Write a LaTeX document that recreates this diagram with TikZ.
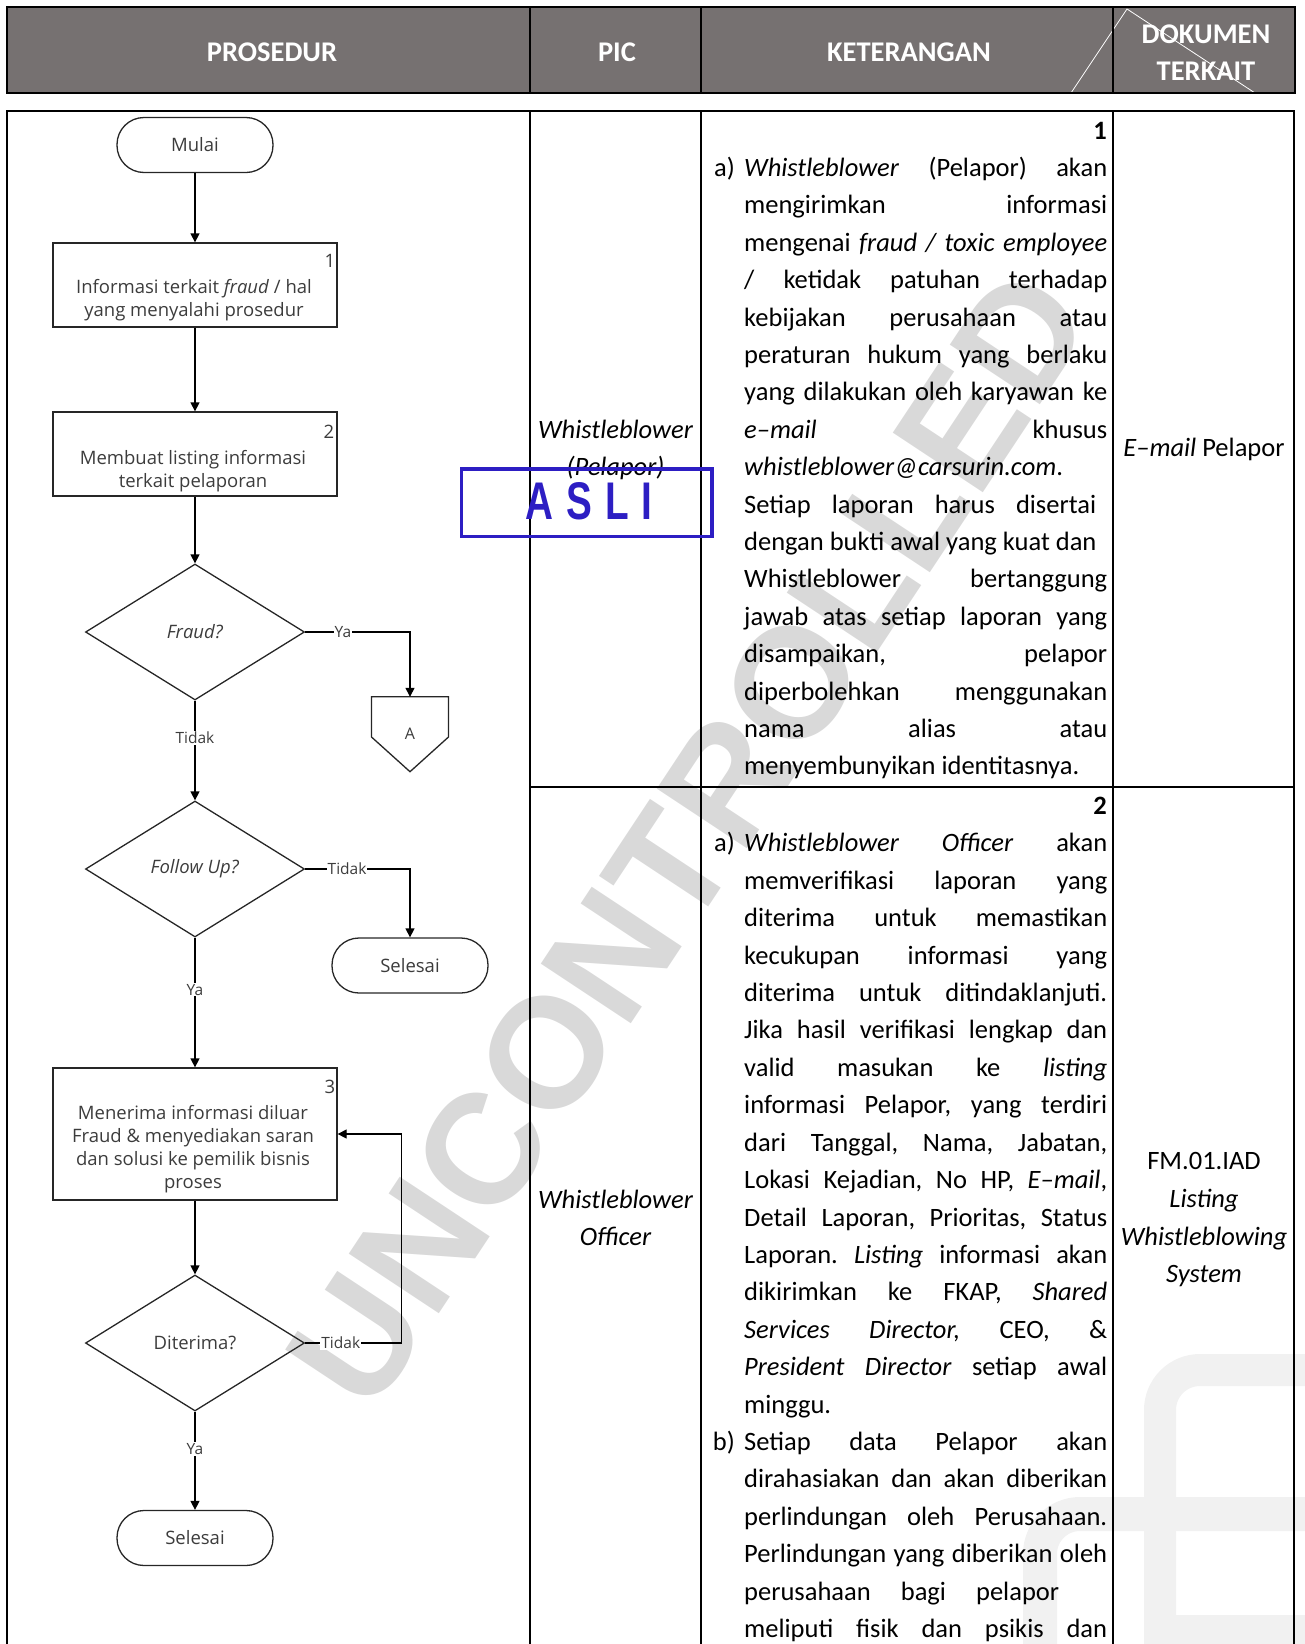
\documentclass[tikz,border=0pt]{standalone}
\usepackage{fontspec}
\usepackage{graphicx}
\setmainfont{Carlito}
\newfontfamily\flowfont{Open Sans}
\newfontfamily\stampfont{Liberation Sans}
\usetikzlibrary{arrows.meta,shapes.geometric,calc}
\definecolor{hdrgray}{HTML}{767171}
\definecolor{asliblue}{RGB}{45,30,195}
\definecolor{flowtext}{HTML}{3C3C3C}
\definecolor{wmgray}{HTML}{D9D9D9}
\definecolor{logogray}{HTML}{F1F1F1}
\frenchspacing
\newcommand{\jline}[1]{\makebox[\linewidth][s]{#1}\par}
\newcommand{\jlinew}[2]{\makebox[#1][s]{#2}\par}
\newcommand{\lline}[1]{\mbox{#1}\par}
\newcommand{\itemlab}[1]{\llap{#1\hspace{9.3pt}}}
\begin{document}
\begin{tikzpicture}[x=1pt,y=-1pt,
  tline/.style={line width=1.5pt,black},
  hdrtxt/.style={text=white,font=\fontsize{28.5}{30}\selectfont\bfseries,inner sep=0},
  fbox/.style={draw=black!85,line width=1.3pt,minimum width=284pt,inner sep=0},
  term/.style={draw=black!85,line width=1.3pt,rounded corners=27pt,minimum width=156pt,minimum height=55pt,inner sep=0,text=flowtext,font=\flowfont\fontsize{18.5}{23}\selectfont},
  dec/.style={diamond,draw=black!85,line width=1.3pt,minimum width=219pt,minimum height=136pt,inner sep=0,aspect=1.6,text=flowtext,font=\flowfont\fontsize{18.5}{23}\selectfont},
  ftxt/.style={text=flowtext,font=\flowfont\fontsize{18.5}{23}\selectfont,align=center,inner sep=0},
  lbl/.style={fill=white,inner sep=1pt,text=flowtext,font=\flowfont\fontsize{15.5}{17}\selectfont},
  arr/.style={line width=1.3pt,black,-{Triangle[length=9pt,width=9pt]}},
  shapeline/.style={draw=black!85,line width=1.3pt},
  cell/.style={font=\fontsize{26.5}{37.41}\selectfont,inner sep=0},
  celli/.style={font=\fontsize{26.5}{30}\selectfont\itshape,inner sep=0,anchor=base},
]
\useasboundingbox (0,0) rectangle (1304,1644);

% faint logo, bottom right
\draw[logogray,line width=32pt,rounded corners=40pt] (1160,1700) -- (1160,1370) -- (1340,1370);
\draw[logogray,line width=34pt,rounded corners=40pt] (1040,1700) -- (1040,1514) -- (1340,1514);
\fill[logogray] (1145,1615) rectangle (1320,1660);

% watermark
\node[rotate=56.5,text=wmgray,font=\stampfont\bfseries\fontsize{157}{157}\selectfont,inner sep=0] (wm) at (689,838.6) {UNCONTROLLED};

% header
\fill[hdrgray] (7,7) rectangle (1295,93);
\draw[white,line width=0.8pt] (1071,93) -- (1127,9) -- (1255,93);
\draw[line width=2.5pt] (7,7) rectangle (1295,93);
\draw[line width=2pt] (530,7) -- (530,93) (701,7) -- (701,93) (1113,7) -- (1113,93);
\node[hdrtxt] (h1) at (272,52.4) {PROSEDUR};
\node[hdrtxt] (h2) at (617,52.4) {PIC};
\node[hdrtxt] (h3) at (909,52.4) {KETERANGAN};
\node[hdrtxt] (h4a) at (1206,34.5) {DOKUMEN};
\node[hdrtxt] (h4b) at (1206,71) {TERKAIT};

% body grid
\draw[tline] (7,1650) -- (7,111) -- (1294,111) -- (1294,1650);
\draw[tline] (530,111) -- (530,1650);
\draw[tline] (701,111) -- (701,1650);
\draw[tline] (1113,111) -- (1113,1650);
\draw[tline] (530,787) -- (1294,787);

% flowchart
\node[term] (mulai) at (195,145) {Mulai};
\node[fbox,minimum height=84pt] (b1) at (195,285) {};
\node[ftxt] (b1t) at (194,300.5) {Informasi terkait \textit{fraud} / hal\\yang menyalahi prosedur};
\node[ftxt] (b1n) at (330,261) {1};
\node[fbox,minimum height=84pt] (b2) at (195,454) {};
\node[ftxt] (b2t) at (193,471.5) {Membuat listing informasi\\terkait pelaporan};
\node[ftxt] (b2n) at (329,432) {2};
\node[dec] (fraud) at (195,632) {\textit{Fraud?}};
\node[ftxt,minimum width=76.6pt,minimum height=74.5pt,font=\flowfont\fontsize{16}{18}\selectfont] (A) at (410,734.25) {A};
\draw[shapeline] (A.north west) -- (A.north east) -- ([yshift=-2.75pt]A.east) -- (A.south) -- ([yshift=-2.75pt]A.west) -- cycle;
\node[dec] (follow) at (195,869) {\textit{Follow Up?}};
\node[term] (sel1) at (410,965.5) {Selesai};
\node[fbox,minimum height=132pt] (b3) at (195,1134) {};
\node[ftxt] (b3t) at (193,1149) {Menerima informasi diluar\\Fraud \& menyediakan saran\\dan solusi ke pemilik bisnis\\proses};
\node[ftxt] (b3n) at (330,1087) {3};
\node[dec] (diterima) at (195,1343) {Diterima?};
\node[term] (sel2) at (195,1538) {Selesai};
\coordinate (fb) at (401.5,1343);

\draw[arr] (mulai) -- (b1);
\draw[arr] (b1) -- (b2);
\draw[arr] (b2) -- (fraud);
\draw[arr] (fraud.east) -| node[lbl,pos=0.18] (l1) {Ya} (A.north);
\draw[arr] (fraud) -- node[lbl,pos=0.37] (l2) {Tidak} (follow);
\draw[arr] (follow.east) -| node[lbl,pos=0.2] (l3) {Tidak} (sel1.north);
\draw[arr] (follow) -- node[lbl,pos=0.4] (l4) {Ya} (b3);
\draw[arr] (b3) -- (diterima);
\draw[arr] (diterima.east) -- node[lbl,pos=0.37] (l5) {Tidak} (fb) |- (b3.east);
\draw[arr] (diterima) -- node[lbl,pos=0.38] (l6) {Ya} (sel2);

% row 1 text
\node[cell,anchor=base east,font=\fontsize{26.5}{30}\selectfont\bfseries] (n1) at (1107,139.5) {1};
\node[cell,anchor=base west] (d1) at (744,176.4) {\parbox[t]{363pt}{\fontsize{26.5}{37.41}\selectfont\parindent=0pt\parskip=0pt
\jline{\itemlab{a)}\textit{Whistleblower} (Pelapor) akan}
\jline{mengirimkan informasi}
\jline{mengenai \textit{fraud / toxic employee}}
\jline{/ ketidak patuhan terhadap}
\jline{kebijakan perusahaan atau}
\jline{peraturan hukum yang berlaku}
\jline{yang dilakukan oleh karyawan ke}
\jline{\textit{e–mail} khusus}
\lline{\textit{whistleblower@carsurin.com}.}
\jlinew{352pt}{Setiap laporan harus disertai}
\lline{dengan bukti awal yang kuat dan}
\jline{Whistleblower bertanggung}
\jline{jawab atas setiap laporan yang}
\jline{disampaikan, pelapor}
\jline{diperbolehkan menggunakan}
\jline{nama alias atau}
\lline{menyembunyikan identitasnya.}}};

% row 2 text
\node[cell,anchor=base east,font=\fontsize{26.5}{30}\selectfont\bfseries] (n2) at (1107,814) {2};
\node[cell,anchor=base west] (d2) at (744,851.9) {\parbox[t]{363pt}{\fontsize{26.5}{37.41}\selectfont\parindent=0pt\parskip=0pt
\jline{\itemlab{a)}\textit{Whistleblower Officer} akan}
\jline{memverifikasi laporan yang}
\jline{diterima untuk memastikan}
\jline{kecukupan informasi yang}
\jline{diterima untuk ditindaklanjuti.}
\jline{Jika hasil verifikasi lengkap dan}
\jline{valid masukan ke \textit{listing}}
\jline{informasi Pelapor, yang terdiri}
\jline{dari Tanggal, Nama, Jabatan,}
\jline{Lokasi Kejadian, No HP, \textit{E–mail},}
\jline{Detail Laporan, Prioritas, Status}
\jline{Laporan. \textit{Listing} informasi akan}
\jline{dikirimkan ke FKAP, \textit{Shared}}
\jline{\textit{Services Director,} CEO, \&}
\jline{\textit{President Director} setiap awal}
\lline{minggu.}
\jline{\itemlab{b)}Setiap data Pelapor akan}
\jline{dirahasiakan dan akan diberikan}
\jline{perlindungan oleh Perusahaan.}
\jline{Perlindungan yang diberikan oleh}
\jlinew{315pt}{perusahaan bagi pelapor}
\jline{meliputi fisik dan psikis dan}}};

% PIC column
\node[celli] (p1a) at (615.5,438.5) {Whistleblower};
\node[celli] (p1b) at (615.5,475.9) {(Pelapor)};
\node[celli] (p2a) at (615.5,1208) {Whistleblower};
\node[celli] (p2b) at (615.5,1245.4) {Officer};

% dokumen column
\node[cell,anchor=base] (k1) at (1204,456) {\textit{E–mail} Pelapor};
\node[cell,anchor=base] (k2a) at (1204,1169.5) {FM.01.IAD};
\node[celli] (k2b) at (1204,1207.5) {Listing};
\node[celli] (k2c) at (1204,1245) {Whistleblowing};
\node[celli] (k2d) at (1204,1282.5) {System};

% stamp
\node[draw=asliblue,line width=3.5pt,minimum width=250.5pt,minimum height=67.5pt,inner sep=0] (stamp) at (586.75,502.75) {};
\node[text=asliblue,font=\stampfont\bfseries\fontsize{53}{53}\selectfont,inner sep=0] (asli) at (589,501) {\scalebox{0.73}[1]{A\kern18pt S\kern18pt L\kern18pt I}};
\end{tikzpicture}
\end{document}
